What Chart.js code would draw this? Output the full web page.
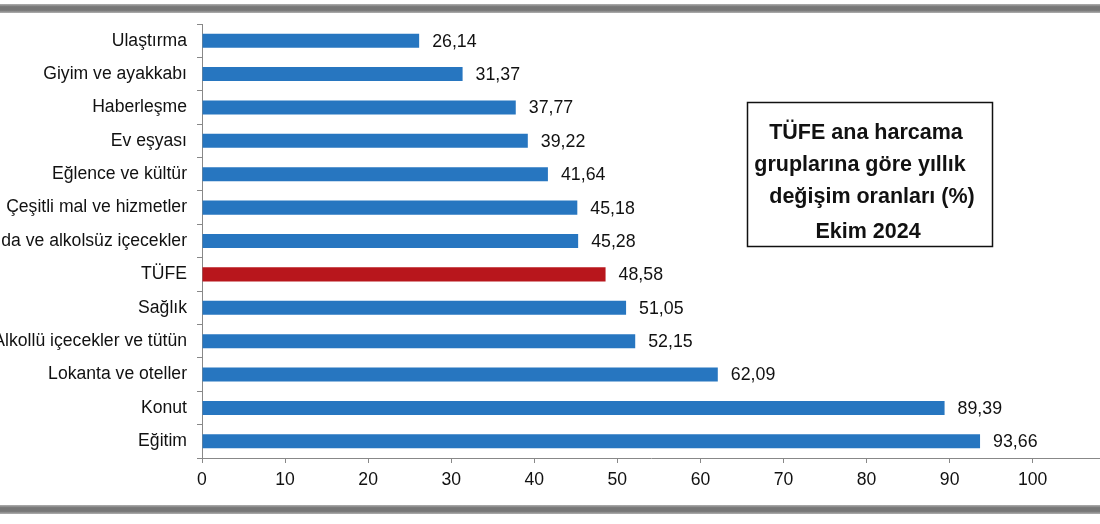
<!DOCTYPE html>
<html>
<head>
<meta charset="utf-8">
<script src="https://cdn.jsdelivr.net/npm/chart.js@4/dist/chart.umd.min.js"></script>
<style>
html,body{margin:0;padding:0;background:#fff;overflow:hidden;}
#wrap{position:relative;width:1100px;height:524px;}
canvas{display:block;}
</style>
</head>
<body>
<div id="wrap"><canvas id="c" width="1100" height="524"></canvas></div>
<script>
const categories = ["Ulaştırma","Giyim ve ayakkabı","Haberleşme","Ev eşyası","Eğlence ve kültür","Çeşitli mal ve hizmetler","Gıda ve alkolsüz içecekler","TÜFE","Sağlık","Alkollü içecekler ve tütün","Lokanta ve oteller","Konut","Eğitim"];
const values = [26.14,31.37,37.77,39.22,41.64,45.18,45.28,48.58,51.05,52.15,62.09,89.39,93.66];
const highlight = "TÜFE";
const xTicks = [0,10,20,30,40,50,60,70,80,90,100];
const titleLines = ["TÜFE ana harcama","gruplarına göre yıllık","değişim oranları (%)","Ekim 2024"];

const FONT = "'Liberation Sans', Arial, sans-serif";
const BLUE = "#2776c0";
const RED = "#b8161c";

const decor = {
  id: "decor",
  afterDraw(chart) {
    const ctx = chart.ctx;
    const meta = chart.getDatasetMeta(0);
    ctx.save();
    ctx.font = "17.8px " + FONT;
    ctx.fillStyle = "#111";
    ctx.textAlign = "left";
    ctx.textBaseline = "middle";
    meta.data.forEach((bar, i) => {
      ctx.fillText(values[i].toFixed(2).replace(".", ","), bar.x + 13, bar.y + 1);
    });
    ctx.lineWidth = 1.5;
    ctx.strokeStyle = "#111";
    ctx.strokeRect(747.5, 102.5, 245, 144);
    ctx.font = "bold 21.5px " + FONT;
    ctx.fillStyle = "#111";
    ctx.textAlign = "center";
    const cx = [866, 860, 872, 868];
    const cy = [133, 165, 197, 232];
    titleLines.forEach((t, i) => ctx.fillText(t, cx[i], cy[i]));
    const band = (y) => {
      const g = ctx.createLinearGradient(0, y, 0, y + 9);
      g.addColorStop(0, "#b0b0b0");
      g.addColorStop(0.3, "#777");
      g.addColorStop(0.7, "#777");
      g.addColorStop(1, "#b0b0b0");
      ctx.fillStyle = g;
      ctx.fillRect(0, y, 1100, 9);
    };
    band(4);
    band(505);
    ctx.restore();
  }
};

new Chart(document.getElementById("c"), {
  type: "bar",
  data: {
    labels: categories,
    datasets: [{
      data: values,
      backgroundColor: categories.map(c => c === highlight ? RED : BLUE),
      borderWidth: 0,
      categoryPercentage: 1,
      barPercentage: 0.42
    }]
  },
  options: {
    indexAxis: "y",
    responsive: false,
    animation: false,
    devicePixelRatio: 1,
    layout: { padding: { top: 24, left: 0, right: 0, bottom: 0 } },
    plugins: { legend: { display: false }, tooltip: { enabled: false }, title: { display: false } },
    scales: {
      y: {
        type: "category",
        afterFit(s) { s.width = 202; },
        grid: { offset: true, drawOnChartArea: false, drawTicks: true, tickLength: 5, color: "#888" },
        border: { color: "#888", width: 1 },
        ticks: { padding: 10, color: "#111", font: { family: FONT, size: 17.6 } }
      },
      x: {
        type: "linear",
        min: 0,
        max: 108.1,
        afterBuildTicks(s) { s.ticks = xTicks.map(v => ({ value: v })); },
        afterFit(s) { s.height = 66; },
        grid: { drawOnChartArea: false, drawTicks: true, tickLength: 5, color: "#888" },
        border: { color: "#888", width: 1 },
        ticks: { padding: 7, color: "#111", font: { family: FONT, size: 17.6 }, maxRotation: 0 }
      }
    }
  },
  plugins: [decor]
});
</script>
</body>
</html>
